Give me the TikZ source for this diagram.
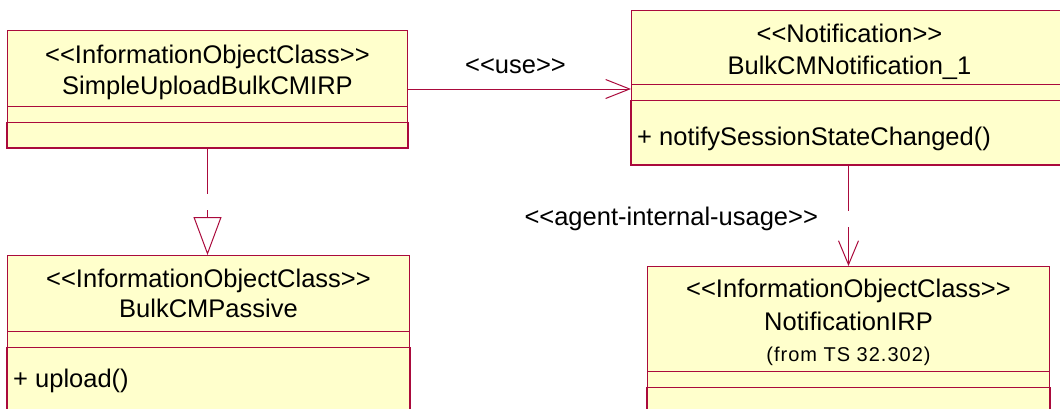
\documentclass[tikz,border=0pt]{standalone}
\usepackage{fontspec}
\setmainfont{Liberation Sans}[Ligatures=TeXOff]
\usetikzlibrary{arrows.meta,calc,positioning}
\definecolor{umlred}{RGB}{170,10,60}
\definecolor{umlfill}{RGB}{255,255,204}
\newcommand{\classfont}{\fontsize{25.5}{30}\selectfont}
\newcommand{\fromfont}{\fontsize{20}{24}\selectfont\addfontfeature{LetterSpace=5}}

\begin{document}
\begin{tikzpicture}[x=1pt,y=-1pt,
  classbox/.style={draw=umlred, fill=umlfill, line width=1pt, anchor=north west, inner sep=0pt},
  classtext/.style={font=\classfont, inner sep=0pt, anchor=base},
  optext/.style={font=\classfont, inner sep=0pt, anchor=base west},
  edgelabel/.style={font=\classfont, inner sep=0pt},
  sepline/.style={draw=umlred, line width=1pt},
  opsframe/.style={draw=umlred, line width=1.8pt},
  usearrow/.style={draw=umlred, line width=1pt, -{Straight Barb[length=24pt,width=19pt]}},
  depend/.style={draw=umlred, line width=1pt, dash pattern=on 46pt off 16pt, -{Straight Barb[length=24pt,width=20pt]}},
  realize/.style={draw=umlred, line width=1pt, dash pattern=on 46pt off 16pt, -{Triangle[open,length=38pt,width=28pt]}}]
 \useasboundingbox (0,0) rectangle (1060,408);
 \clip (0,0) rectangle (1060,408);
 % classes
 \node[classbox, minimum width=400pt, minimum height=117pt] (sub) at (7,30) {};
 \node[classbox, minimum width=436pt, minimum height=154pt] (notif) at (631,10) {};
 \node[classbox, minimum width=402pt, minimum height=170pt] (passive) at (7,255) {};
 \node[classbox, minimum width=402pt, minimum height=170pt] (nirp) at (647,266) {};
 %
 \foreach \c/\a/\b in {sub/76/92, notif/74/90, passive/76/92, nirp/105/121} {
   \draw[sepline] ($(\c.north west)+(0,\a)$) -- ($(\c.north east)+(0,\a)$);
   \draw[sepline] ($(\c.north west)+(0,\b)$) -- ($(\c.north east)+(0,\b)$);
   \draw[opsframe] ($(\c.north west)+(0,\b)$) -- (\c.south west) -- (\c.south east) -- ($(\c.north east)+(0,\b)$);
 }
 %
 \node[classtext] (subst) at ($(sub.north)+(0,33)$) {<<InformationObjectClass>>};
 \node[classtext] (subname) at ($(sub.north)+(0,64)$) {SimpleUploadBulkCMIRP};
 \node[classtext] (notifst) at ($(notif.north)+(0,32)$) {<<Notification>>};
 \node[classtext] (notifname) at ($(notif.north)+(0,64)$) {BulkCMNotification\_1};
 \node[optext] (notifop) at ($(notif.north west)+(6,135)$) {+ notifySessionStateChanged()};
 \node[classtext] (passivest) at ($(passive.north)+(0,32)$) {<<InformationObjectClass>>};
 \node[classtext] (passivename) at ($(passive.north)+(0,62)$) {BulkCMPassive};
 \node[optext] (passiveop) at ($(passive.north west)+(6,132)$) {+ upload()};
 \node[classtext] (nirpst) at ($(nirp.north)+(0,31)$) {<<InformationObjectClass>>};
 \node[classtext] (nirpname) at ($(nirp.north)+(0,64)$) {NotificationIRP};
 \node[classtext, font=\fromfont] (nirpfrom) at ($(nirp.north)+(0,95)$) {(from TS 32.302)};
 % relations
 \draw[usearrow] (sub.east) -- node[midway, edgelabel, anchor=base, xshift=-4pt, yshift=16pt] (uselabel) {<<use>>} (sub.east -| notif.west);
 \draw[realize] (sub.south) -- (sub.south |- passive.north);
 \draw[depend] (nirp.north |- notif.south) -- node[midway, edgelabel, anchor=base east, xshift=-30pt, yshift=-10pt] (agentlabel) {<<agent-internal-usage>>} (nirp.north);
\end{tikzpicture}
\end{document}
